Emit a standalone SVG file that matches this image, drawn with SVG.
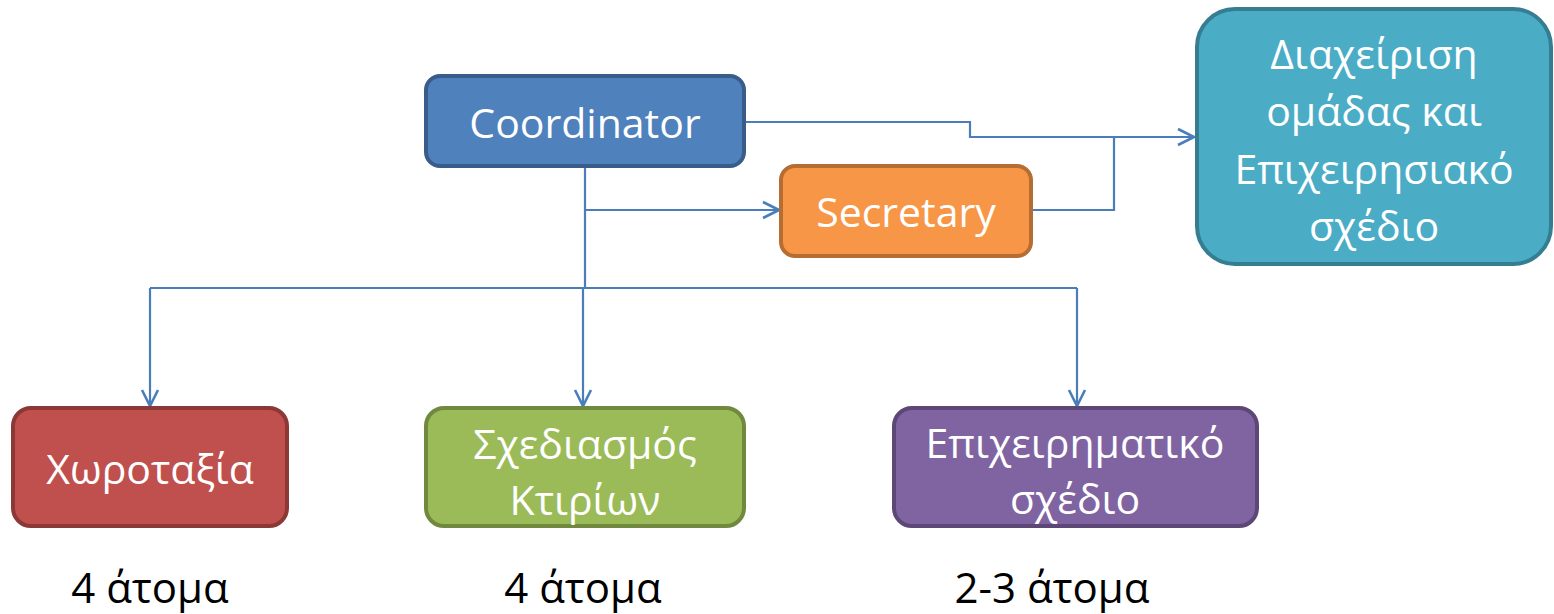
<svg xmlns="http://www.w3.org/2000/svg" width="1554" height="614" viewBox="0 0 1554 614">
<style>
.t{font-family:"Open Sans","Noto Sans","DejaVu Sans",sans-serif;font-size:41px;fill:#ffffff;text-anchor:middle;dominant-baseline:central}
.l{font-family:"Open Sans","Noto Sans","DejaVu Sans",sans-serif;font-size:42px;fill:#000000;text-anchor:middle}
.c{fill:none;stroke:#4A7EBB;stroke-width:2.2}
</style>
<defs>
<marker id="a" viewBox="0 0 20 20" refX="18" refY="10" markerWidth="20" markerHeight="20" markerUnits="userSpaceOnUse" orient="auto">
<path d="M2,2 L18,10 L2,18" fill="none" stroke="#4A7EBB" stroke-width="2.6"/>
</marker>
</defs>
<g id="connectors">
<path class="c" d="M745,122 H970 V137 H1194" marker-end="url(#a)"/>
<path class="c" d="M1032,210 H1114 V137"/>
<path class="c" d="M585,167 V288"/>
<path class="c" d="M585,210 H779" marker-end="url(#a)"/>
<path class="c" d="M150,288 H1077"/>
<path class="c" d="M150,288 V406" marker-end="url(#a)"/>
<path class="c" d="M583,288 V406" marker-end="url(#a)"/>
<path class="c" d="M1077,288 V406" marker-end="url(#a)"/>
</g>
<g id="coordinator">
<rect x="426" y="76" width="318" height="90" rx="14" fill="#4F81BD" stroke="#385D8A" stroke-width="4"/>
<text class="t" x="585" y="122">Coordinator</text>
</g>
<g id="secretary">
<rect x="781" y="166" width="250" height="90" rx="14" fill="#F79646" stroke="#B66D31" stroke-width="4"/>
<text class="t" x="906" y="211">Secretary</text>
</g>
<g id="management">
<rect x="1197" y="9" width="354" height="255" rx="38" fill="#4BACC6" stroke="#357D91" stroke-width="4"/>
<text class="t" x="1374" y="53">Διαχείριση</text>
<text class="t" x="1374" y="110">ομάδας και</text>
<text class="t" x="1374" y="168">Επιχειρησιακό</text>
<text class="t" x="1374" y="225">σχέδιο</text>
</g>
<g id="chorotaxia">
<rect x="13" y="408" width="274" height="118" rx="18" fill="#C0504D" stroke="#8C3836" stroke-width="4"/>
<text class="t" x="150" y="468">Χωροταξία</text>
</g>
<g id="schediasmos">
<rect x="426" y="408" width="318" height="118" rx="18" fill="#9BBB59" stroke="#71893F" stroke-width="4"/>
<text class="t" x="585" y="443">Σχεδιασμός</text>
<text class="t" x="585" y="499">Κτιρίων</text>
</g>
<g id="epicheirimatiko">
<rect x="894" y="408" width="363" height="118" rx="18" fill="#8064A2" stroke="#5C4776" stroke-width="4"/>
<text class="t" x="1075" y="442">Επιχειρηματικό</text>
<text class="t" x="1075" y="498">σχέδιο</text>
</g>
<g id="labels">
<text class="l" x="150" y="603">4 άτομα</text>
<text class="l" x="583" y="603">4 άτομα</text>
<text class="l" x="1052" y="603">2-3 άτομα</text>
</g>
</svg>
